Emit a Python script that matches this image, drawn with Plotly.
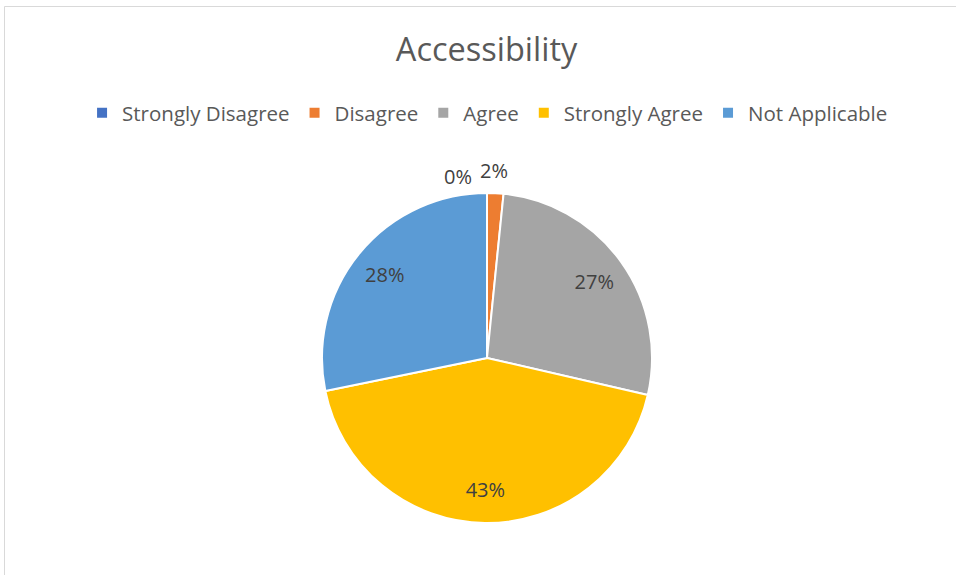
import plotly.graph_objects as go

categories = ["Strongly Disagree", "Disagree", "Agree", "Strongly Agree", "Not Applicable"]
values = [0, 1.6, 27.0, 43.2, 28.2]
colors = ["#4472C4", "#ED7D31", "#A5A5A5", "#FFC000", "#5B9BD5"]
inside_positions = ["none", "none", "inside", "inside", "inside"]

W, H = 956, 575
cx, cy, r = 487, 358, 165
FONT = "Open Sans, Lato, sans-serif"
domain = dict(x=[(cx - r) / W, (cx + r) / W], y=[1 - (cy + r) / H, 1 - (cy - r) / H])

total = sum(values)
pct_text = [f"{round(v / total * 100)}%" for v in values]

fig = go.Figure()
fig.add_trace(go.Pie(
    labels=categories,
    values=values,
    sort=False,
    direction="clockwise",
    rotation=0,
    marker=dict(colors=colors, line=dict(color="white", width=2)),
    textinfo="none",
    domain=domain,
    hoverinfo="label+percent",
))
# transparent ring overlay that carries the inside data labels (placed further out like the original)
fig.add_trace(go.Pie(
    labels=categories,
    values=values,
    sort=False,
    direction="clockwise",
    rotation=0,
    hole=0.6,
    marker=dict(colors=["rgba(0,0,0,0)"] * len(values), line=dict(width=0)),
    texttemplate="%{percent:.0%}",
    textposition=inside_positions,
    insidetextorientation="horizontal",
    textfont=dict(family=FONT, size=20, color="#404040"),
    domain=domain,
    showlegend=False,
    hoverinfo="skip",
))

# outside labels for the two tiny slices
outside_px = {0: (458, 176), 1: (494, 171)}
annotations = []
for i, (px, py) in outside_px.items():
    annotations.append(dict(text=pct_text[i], x=px / W, y=1 - py / H, xref="paper", yref="paper",
                            showarrow=False, xanchor="center", yanchor="middle",
                            font=dict(family=FONT, size=20, color="#404040")))

fig.update_layout(
    width=W, height=H,
    margin=dict(l=0, r=0, t=0, b=0),
    paper_bgcolor="white",
    title=dict(text="Accessibility", x=0.509, xanchor="center", y=1 - 50 / H, yanchor="middle",
               font=dict(family=FONT, size=32.5, color="#595959")),
    legend=dict(orientation="h", x=0.51, xanchor="center", y=1 - 113 / H, yanchor="middle",
                font=dict(family=FONT, size=20.5, color="#595959"),
                itemwidth=30, traceorder="normal"),
    annotations=annotations,
    shapes=[dict(type="rect", xref="paper", yref="paper", x0=4.5 / W, x1=1.02, y0=-0.02, y1=1 - 6.5 / H,
                 line=dict(color="#D9D9D9", width=1), fillcolor="rgba(0,0,0,0)", layer="below")],
)

fig.write_html("out.html", config={"displayModeBar": False},
               post_script="document.body.style.margin='0';document.body.style.overflow='hidden';")
